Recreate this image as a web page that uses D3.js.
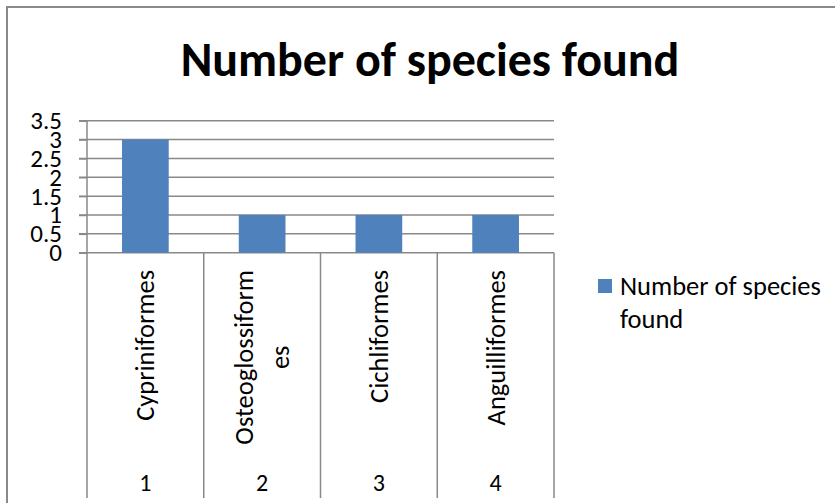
<!DOCTYPE html>
<html>
<head>
<meta charset="utf-8">
<script src="https://cdn.jsdelivr.net/npm/d3@7"></script>
<style>
  body { margin: 0; background: #fff; }
  svg { display: block; font-family: Carlito, Calibri, Lato, sans-serif; }
</style>
</head>
<body>
<div id="chart"></div>
<script>
const chartTitle = "Number of species found";
const seriesName = "Number of species found";
const categories = ["Cypriniformes", "Osteoglossiformes", "Cichliformes", "Anguilliformes"];
const categoryLines = [["Cypriniformes"], ["Osteoglossiform", "es"], ["Cichliformes"], ["Anguilliformes"]];
const legendLines = ["Number of species", "found"];
const groupNumbers = ["1", "2", "3", "4"];
const speciesCount = [3, 1, 1, 1];
const yTicks = [0, 0.5, 1, 1.5, 2, 2.5, 3, 3.5];

const width = 835, height = 503;
const plot = { left: 87, right: 554, top: 120.7, bottom: 252.7 };
const gridColor = "#898989";
const barColor = "#4f81bd";

const svg = d3.select("#chart").append("svg")
    .attr("width", width)
    .attr("height", height);

// chart frame (only top and left edges are inside the picture)
svg.append("path")
    .attr("d", `M7,${height} L7,7 L${width},7`)
    .attr("fill", "none")
    .attr("stroke", gridColor)
    .attr("stroke-width", 2);

svg.append("text")
    .attr("x", 430)
    .attr("y", 76)
    .attr("text-anchor", "middle")
    .style("font-size", "48px")
    .style("font-weight", "bold")
    .text(chartTitle);

const x = d3.scaleBand()
    .domain(categories)
    .range([plot.left, plot.right])
    .paddingInner(0)
    .paddingOuter(0);

const y = d3.scaleLinear()
    .domain([0, 3.5])
    .range([plot.bottom, plot.top]);

// gridlines
svg.append("g")
    .selectAll("line")
    .data(yTicks)
    .join("line")
    .attr("x1", plot.left - 8)
    .attr("x2", plot.right)
    .attr("y1", d => y(d))
    .attr("y2", d => y(d))
    .attr("stroke", gridColor)
    .attr("stroke-width", 1.5);

const yAxis = svg.append("g")
    .attr("transform", `translate(${plot.left},0)`)
    .call(d3.axisLeft(y).tickValues(yTicks).tickFormat(d3.format("")).tickSizeInner(8).tickSizeOuter(0).tickPadding(17));
yAxis.select(".domain").remove();
yAxis.selectAll("line").attr("stroke", gridColor).attr("stroke-width", 1.5);
yAxis.selectAll("text")
    .style("font-size", "25px")
    .style("font-family", "Carlito, Calibri, Lato, sans-serif")
    .attr("fill", "#000");

// bars
const barW = x.bandwidth() * 0.4;
svg.append("g")
    .selectAll("rect")
    .data(categories)
    .join("rect")
    .attr("x", d => x(d) + (x.bandwidth() - barW) / 2)
    .attr("y", (d, i) => y(speciesCount[i]))
    .attr("width", barW)
    .attr("height", (d, i) => y(0) - y(speciesCount[i]))
    .attr("fill", barColor);

// y axis line
svg.append("line")
    .attr("x1", plot.left).attr("x2", plot.left)
    .attr("y1", plot.top).attr("y2", plot.bottom)
    .attr("stroke", gridColor).attr("stroke-width", 1.5);

// category dividers (multi-level axis)
const dividers = categories.map(c => x(c)).concat([plot.right]);
svg.append("g")
    .selectAll("line")
    .data(dividers)
    .join("line")
    .attr("x1", d => d).attr("x2", d => d)
    .attr("y1", plot.bottom).attr("y2", 498)
    .attr("stroke", gridColor)
    .attr("stroke-width", 1.5);

// rotated category labels, wrapped lines centred on the first line
const labelGroups = svg.append("g")
    .selectAll("g")
    .data(categories)
    .join("g")
    .attr("transform", d => `translate(${x(d) + x.bandwidth() / 2 + 9},270) rotate(-90)`);

labelGroups.each(function (d, i) {
    const lines = categoryLines[i];
    const g = d3.select(this);
    const lineGap = 36;
    const first = -(lines.length - 1) * lineGap / 2;
    const head = g.append("text")
        .attr("x", 0)
        .attr("y", first)
        .attr("text-anchor", "end")
        .style("font-size", "26.5px")
        .text(lines[0]);
    const headLen = head.node().getComputedTextLength();
    lines.slice(1).forEach((t, k) => {
        g.append("text")
            .attr("x", -headLen / 2)
            .attr("y", first + (k + 1) * lineGap)
            .attr("text-anchor", "middle")
            .style("font-size", "26.5px")
            .text(t);
    });
});

// group numbers
svg.append("g")
    .selectAll("text")
    .data(groupNumbers)
    .join("text")
    .attr("x", (d, i) => x(categories[i]) + x.bandwidth() / 2)
    .attr("y", 491)
    .attr("text-anchor", "middle")
    .style("font-size", "24px")
    .text(d => d);

// legend
const legend = svg.append("g").attr("transform", "translate(598,279)");
legend.append("rect")
    .attr("width", 14).attr("height", 14)
    .attr("fill", barColor);
legend.selectAll("text")
    .data(legendLines)
    .join("text")
    .attr("x", 22)
    .attr("y", (d, i) => 16 + i * 33)
    .style("font-size", "26.5px")
    .text(d => d);
</script>
</body>
</html>
